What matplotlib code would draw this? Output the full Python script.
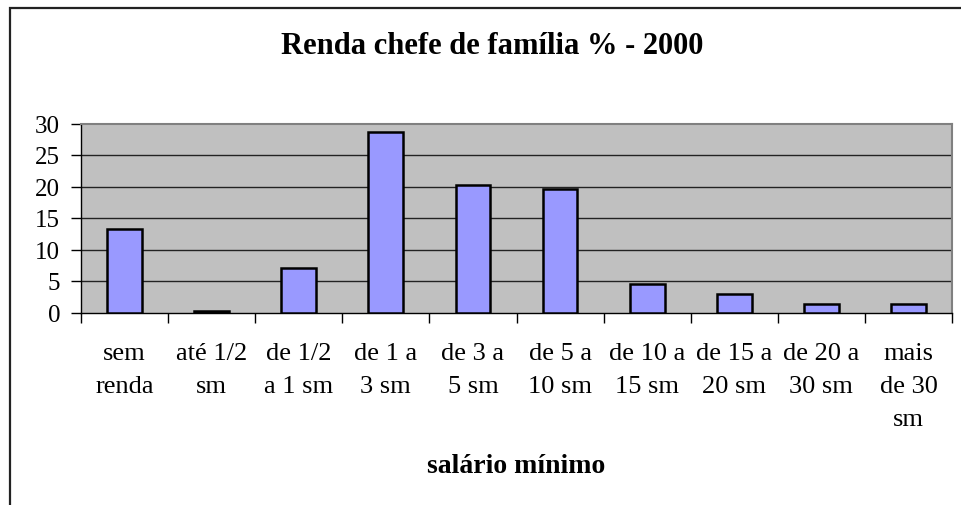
import numpy as np
import matplotlib.pyplot as plt
from matplotlib.patches import Rectangle

plt.rcParams['font.family'] = ['Liberation Serif', 'DejaVu Serif']

# data
categorias = ['sem\nrenda', 'até 1/2\nsm', 'de 1/2\na 1 sm', 'de 1 a\n3 sm', 'de 3 a\n5 sm',
              'de 5 a\n10 sm', 'de 10 a\n15 sm', 'de 15 a\n20 sm', 'de 20 a\n30 sm', 'mais\nde 30\nsm']
valores = [13.2, 0.3, 7.0, 28.6, 20.3, 19.6, 4.6, 2.9, 1.4, 1.4]
yticks = [0, 5, 10, 15, 20, 25, 30]

W, H = 962, 506
fig = plt.figure(figsize=(W / 100, H / 100), dpi=100)

# outer chart frame (runs off the right and bottom of the image)
fig.patches.append(Rectangle((10 / W, -0.05), 1.1, (H - 8) / H + 0.05 - 0.002,
                             transform=fig.transFigure, fill=False,
                             edgecolor='#222222', linewidth=1.6))

ax = fig.add_axes([81 / W, (H - 313.5) / H, (952 - 81) / W, 189 / H])
ax.set_facecolor('#C0C0C0')

x = np.arange(len(valores))
ax.bar(x, valores, width=0.4, color='#9999FF', edgecolor='black', linewidth=1.8, zorder=3)

ax.set_xlim(-0.5, len(valores) - 0.5)
ax.set_ylim(0, 30)
ax.set_yticks(yticks)
ax.set_yticklabels([str(v) for v in yticks], fontsize=18)
for v in yticks[1:-1]:
    ax.axhline(v, color='#222222', linewidth=1.0, zorder=1)

# category labels centred, ticks on category boundaries
ax.set_xticks(x)
ax.set_xticklabels(categorias, fontsize=19, linespacing=1.65, va='top')
ax.tick_params(axis='x', length=0, pad=21)
ax.set_xticks(np.arange(-0.5, len(valores)), minor=True)
ax.tick_params(axis='x', which='minor', length=7, width=1, color='black')
ax.tick_params(axis='y', length=7, width=1, pad=8)

for s in ['top', 'right']:
    ax.spines[s].set_color('#808080')
    ax.spines[s].set_linewidth(1.5)
for s in ['left', 'bottom']:
    ax.spines[s].set_color('black')
    ax.spines[s].set_linewidth(1.0)

fig.text(492 / W, 1 - 46 / H, 'Renda chefe de família % - 2000', ha='center', va='center',
         fontsize=22, fontweight='bold')
fig.text(516 / W, 1 - 467 / H, 'salário mínimo', ha='center', va='center',
         fontsize=20, fontweight='bold')

fig.savefig('out.png', dpi=100)
